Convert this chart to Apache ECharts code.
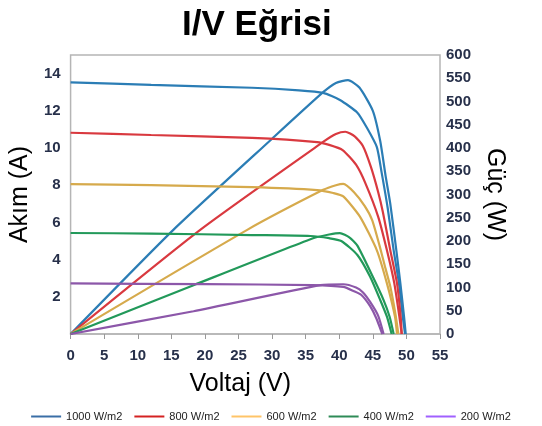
<!DOCTYPE html>
<html>
<head>
<meta charset="utf-8">
<script src="https://cdn.jsdelivr.net/npm/echarts@6/dist/echarts.min.js"></script>
<style>html,body{margin:0;padding:0;background:#fff}#c{width:542px;height:426px}</style>
</head>
<body>
<div id="c"></div>
<script>
// Irradiance levels (legend names)
const levels = ['1000 W/m2', '800 W/m2', '600 W/m2', '400 W/m2', '200 W/m2'];
// X axis ticks (voltage)
const voltTicks = [0, 5, 10, 15, 20, 25, 30, 35, 40, 45, 50, 55];
// I-V curves: [voltage V, current A]
const iv1000 = [[0,13.53],[12,13.39],[27,13.24],[34,13.1],[37.6,12.96],[40.1,12.58],[42.7,11.9],[44.1,11.1],[45.6,10.05],[46.3,8.7],[47.2,6.8],[48.1,4.5],[48.9,2.7],[49.45,0.95],[49.8,0]];
const iv800  = [[0,10.82],[12,10.7],[27,10.54],[36.7,10.32],[38.5,10.17],[40.5,9.89],[42.5,9.1],[43.9,8.1],[45.8,6.3],[47.1,4.5],[48.2,2.72],[48.95,0.93],[49.3,0]];
const iv600  = [[0,8.06],[12,8.0],[27,7.9],[36.7,7.74],[39.1,7.58],[40.6,7.4],[43.1,6.3],[45.6,4.5],[47.1,2.72],[48.3,0.93],[48.6,0]];
const iv400  = [[0,5.43],[12,5.4],[27,5.32],[35.7,5.27],[38.5,5.15],[40.3,5.0],[42.7,4.25],[44.6,3.08],[46.1,1.83],[47.1,0.93],[47.8,0]];
const iv200  = [[0,2.72],[20,2.68],[36.1,2.63],[40.6,2.53],[42.2,2.3],[43.3,2.1],[44.6,1.5],[45.5,0.86],[46.4,0]];
// P-V curves: [voltage V, power W]
const pv1000 = [[0,0],[15.3,224],[30,420],[37.6,520],[39.5,540],[41.3,546],[43.0,530],[45.0,480],[46.1,415],[46.9,340],[47.6,280],[48.5,180],[49.1,109],[49.65,37],[49.9,0]];
const pv800  = [[0,0],[19.3,224],[37.6,413],[39.5,430],[40.9,435],[42.3,425],[43.5,405],[44.7,360],[45.8,305],[46.5,262],[47.6,180],[48.6,109],[49.15,37],[49.3,0]];
const pv600  = [[0,0],[26.3,224],[37.6,310],[39.5,320],[40.6,323],[42.2,305],[43.8,275],[44.9,245],[46.0,190],[46.9,140],[47.6,102],[48.4,40],[48.8,0]];
const pv400  = [[0,0],[18.3,105],[36.1,206],[38.5,214],[40.1,217],[41.5,208],[42.7,190],[45.0,123],[46.6,73],[47.5,37],[48.1,0]];
const pv200  = [[0,0],[18.3,49],[37.2,105],[40.6,107],[42.5,100],[43.5,90],[44.6,69],[45.8,39],[46.6,0]];

const ivSets = [iv1000, iv800, iv600, iv400, iv200];
const pvSets = [pv1000, pv800, pv600, pv400, pv200];
const curveColors = ['#2b7db5', '#d9393f', '#d6aa4c', '#22995a', '#8c57a9'];
const legendColors = ['#3a6ea6', '#d42222', '#ffc468', '#2e8b57', '#a060ff'];

const font = "'Liberation Sans', Arial, sans-serif";
const labelColor = '#27304a';

const series = [];
levels.forEach((name, i) => {
  [[ivSets[i], 0], [pvSets[i], 1]].forEach(([data, yi]) => {
    series.push({
      name, type: 'line', yAxisIndex: yi, data,
      showSymbol: false, smooth: 0.2,
      lineStyle: { color: curveColors[i], width: 2.2 },
      itemStyle: { color: curveColors[i] },
      emphasis: { disabled: true }, animation: false
    });
  });
});

const chart = echarts.init(document.getElementById('c'), null, { renderer: 'canvas' });
chart.setOption({
  backgroundColor: '#fff',
  animation: false,
  title: {
    text: 'I/V Eğrisi', left: 182, top: 8, padding: 0,
    textStyle: { fontFamily: font, fontWeight: 'bold', fontSize: 35, color: '#000' }
  },
  legend: {
    data: levels.map((n, i) => ({ name: n, icon: 'rect', itemStyle: { color: legendColors[i] } })),
    left: 'center', top: 406, itemWidth: 30, itemHeight: 2, itemGap: 12,
    textStyle: { fontFamily: font, fontSize: 11, color: '#222' }
  },
  grid: { left: 70, right: 102, top: 55, bottom: 92, show: true, borderColor: '#b5b5b5', borderWidth: 1.5 },
  xAxis: {
    type: 'value', min: voltTicks[0], max: voltTicks[voltTicks.length - 1], interval: 5,
    name: 'Voltaj (V)', nameLocation: 'middle', nameGap: 38,
    nameTextStyle: { fontFamily: font, fontSize: 25, color: '#000', padding: [0, 30, 0, 0] },
    axisLine: { lineStyle: { color: '#b5b5b5', width: 1.5 } },
    axisTick: { show: true, length: 5, lineStyle: { color: '#999' } },
    axisLabel: { margin: 14, fontFamily: font, fontSize: 15, fontWeight: 'bold', color: labelColor },
    splitLine: { show: false }
  },
  yAxis: [
    {
      type: 'value', min: 0, max: 15, interval: 2,
      name: 'Akım (A)', nameLocation: 'middle', nameGap: 19, nameRotate: 90,
      nameTextStyle: { fontFamily: font, fontSize: 25, color: '#000' },
      axisLine: { show: false }, axisTick: { show: false },
      axisLabel: { margin: 10, fontFamily: font, fontSize: 15, fontWeight: 'bold', color: labelColor,
        formatter: v => (v === 0 || v === 15) ? '' : String(v) },
      splitLine: { show: false }
    },
    {
      type: 'value', min: 0, max: 600, interval: 50, position: 'right',
      name: 'Güç (W)', nameLocation: 'middle', nameGap: 42, nameRotate: -90,
      nameTextStyle: { fontFamily: font, fontSize: 25, color: '#000' },
      axisLine: { show: false }, axisTick: { show: false },
      axisLabel: { margin: 6, fontFamily: font, fontSize: 15, fontWeight: 'bold', color: labelColor },
      splitLine: { show: false }
    }
  ],
  series
});
</script>
</body>
</html>
